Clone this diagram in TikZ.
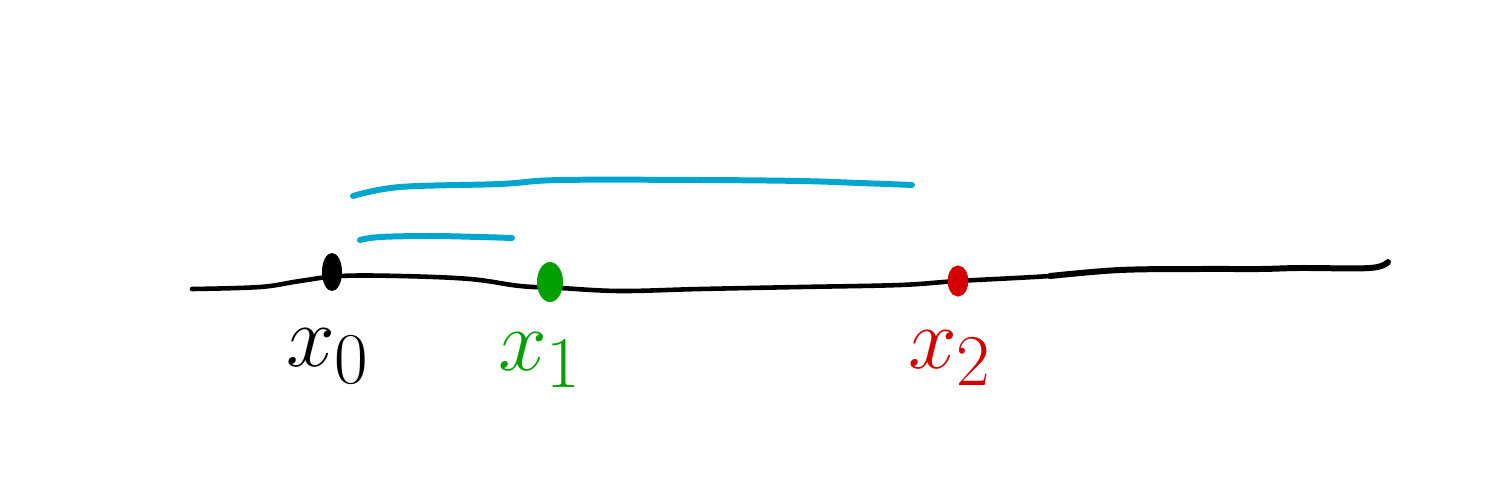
\documentclass[tikz,border=0pt]{standalone}
\usetikzlibrary{shapes.geometric}
\definecolor{skyc}{RGB}{0,166,208}
\definecolor{grn}{RGB}{0,160,0}
\definecolor{rd}{RGB}{210,0,0}
\tikzset{
  axisline/.style={line width=1.3pt, line cap=round, line join=round},
  spanline/.style={skyc, line width=1.7pt, line cap=round},
  blob/.style={ellipse, inner sep=0pt},
  lbl/.style={font=\fontsize{28}{34}\selectfont, inner sep=0pt}
}
\begin{document}
\begin{tikzpicture}[x=0.01cm,y=-0.01cm]
\useasboundingbox (0,0) rectangle (1500,500);
% axis end points
\coordinate (aL) at (192,289);
\coordinate (aR) at (1388,262);
\draw[axisline] plot[smooth, tension=0.6] coordinates {
 (192,289) (260,287) (300,281) (340,276) (400,276) (470,279) (520,286) (560,288) (620,291) (700,289) (800,287) (900,285) (958,281) (1050,276) (1120,270) (1200,269) (1260,269) (1300,268) (1370,268) (1388,262)};
\draw[line width=1.7pt, line cap=round] plot[smooth, tension=0.6] coordinates {
 (1050,276) (1120,270) (1200,269) (1260,269) (1300,268) (1370,268) (1388,262)};
% points
\node[blob, fill=black, minimum width=0.2cm, minimum height=0.38cm] (p0) at (332,272) {};
\node[blob, fill=grn, minimum width=0.26cm, minimum height=0.4cm] (p1) at (550,282) {};
\node[blob, draw=rd, line width=3pt, fill=white, minimum width=0.1cm, minimum height=0.2cm] (p2) at (958,281) {};
% span lines
\coordinate (s1a) at (353,196);
\coordinate (s1b) at (912,185);
\coordinate (s2a) at (360,240);
\coordinate (s2b) at (512,238);
\draw[spanline] plot[smooth, tension=0.6] coordinates {(353,196) (400,187) (500,184) (560,180) (700,180) (800,181) (860,183) (912,185)};
\draw[spanline] plot[smooth, tension=0.6] coordinates {(360,240) (380,237) (430,236) (480,237) (512,238)};
% labels
\node[lbl] (l0) at (328,356) {$x_0$};
\node[lbl, text=grn] (l1) at (540,360) {$x_1$};
\node[lbl, text=rd] (l2) at (950,358) {$x_2$};
\end{tikzpicture}
\end{document}
